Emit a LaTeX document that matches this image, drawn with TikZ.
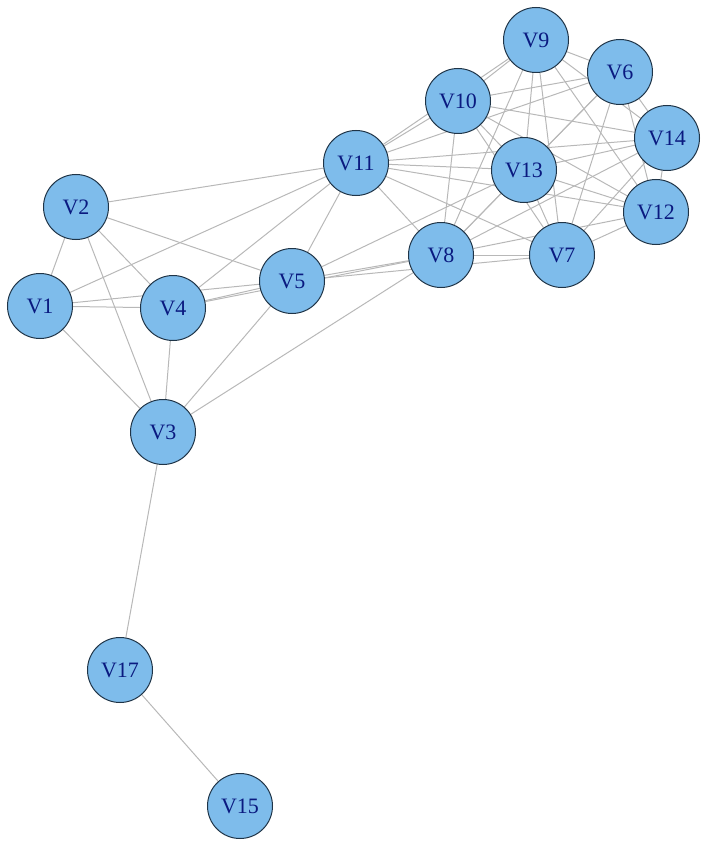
\documentclass[tikz,border=0pt]{standalone}
\usepackage{fontspec}
\setmainfont{Liberation Serif}
\usetikzlibrary{backgrounds}
\definecolor{vfill}{HTML}{7EBCEB}
\definecolor{vline}{HTML}{1F3447}
\definecolor{vtext}{HTML}{0A1A80}
\definecolor{egray}{HTML}{B8B8B8}
\begin{document}
\begin{tikzpicture}[x=1pt,y=-1pt,
  vert/.style={circle,draw=vline,line width=1pt,fill=vfill,minimum size=65pt,inner sep=0pt,text=vtext,font=\fontsize{22}{22}\selectfont},
  edge/.style={draw=egray,line width=1pt}]
\useasboundingbox (0,0) rectangle (701,845);
\node[vert] (V9) at (536,40) {V9};
\node[vert] (V6) at (620,72) {V6};
\node[vert] (V10) at (458,101) {V10};
\node[vert] (V14) at (667,138) {V14};
\node[vert] (V11) at (356,163) {V11};
\node[vert] (V13) at (524,170) {V13};
\node[vert] (V12) at (656,212) {V12};
\node[vert] (V2) at (76,207) {V2};
\node[vert] (V8) at (441,255) {V8};
\node[vert] (V7) at (562,255) {V7};
\node[vert] (V5) at (292,281) {V5};
\node[vert] (V1) at (40,306) {V1};
\node[vert] (V4) at (173,308) {V4};
\node[vert] (V3) at (163,432) {V3};
\node[vert] (V17) at (120,670) {V17};
\node[vert] (V15) at (240,806) {V15};
\begin{scope}[on background layer]
\foreach \a/\b in {V2/V1,V2/V4,V2/V3,V2/V5,V2/V11,
  V1/V4,V1/V5,V1/V11,V1/V3,
  V4/V5,V4/V8,V4/V11,V4/V3,
  V5/V11,V5/V3,V5/V8,V5/V7,V5/V13,
  V3/V8,V3/V17,V17/V15,
  V9/V10,V9/V6,V9/V11,V9/V13,V9/V7,V9/V8,V9/V14,V9/V12,
  V6/V10,V6/V11,V6/V13,V6/V8,V6/V7,V6/V12,V6/V14,
  V10/V11,V10/V8,V10/V13,V10/V7,V10/V14,V10/V12,
  V11/V13,V11/V14,V11/V12,V11/V7,V11/V8,
  V13/V8,V13/V7,V13/V14,V13/V12,
  V14/V12,V14/V8,V14/V7,
  V12/V7,V12/V8,V8/V7}
  \draw[edge] (\a) -- (\b);
\end{scope}
\end{tikzpicture}
\end{document}
